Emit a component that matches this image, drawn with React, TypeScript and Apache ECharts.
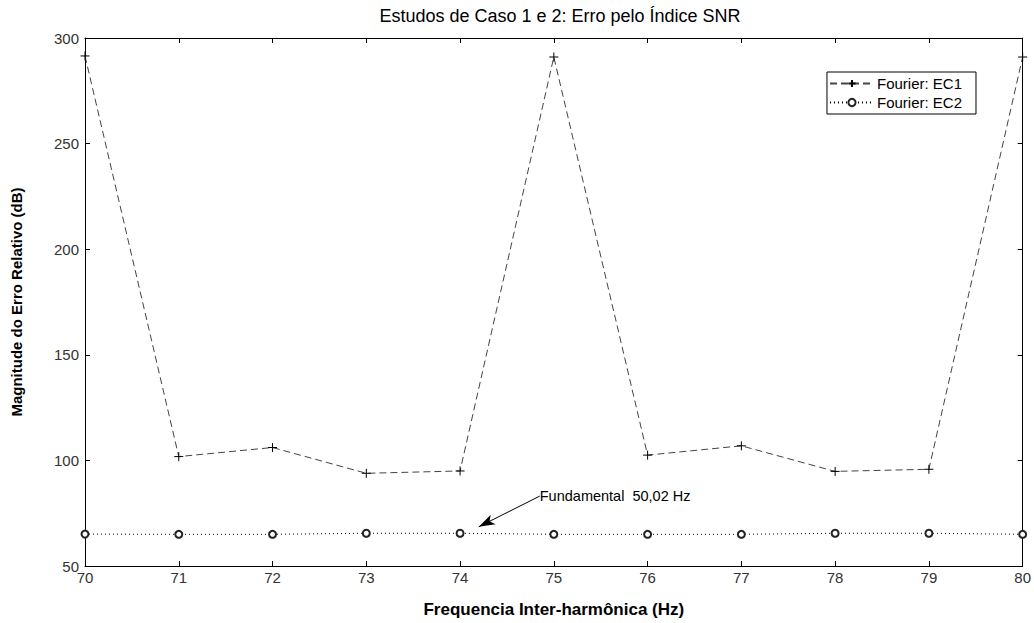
import React, { useEffect, useRef } from "react";
import * as echarts from "echarts";

const freqs = [70, 71, 72, 73, 74, 75, 76, 77, 78, 79, 80];
const ec1 = [291.5, 101.8, 106.1, 93.9, 95.0, 291.0, 102.5, 106.9, 94.8, 95.8, 291.0];
const ec2 = [65.1, 65.0, 65.0, 65.5, 65.5, 65.0, 65.0, 65.0, 65.5, 65.5, 65.0];
const seriesNames = ["Fourier: EC1", "Fourier: EC2"];
const annotationText = "Fundamental  50,02 Hz";
const arrowFrom = [74.85, 83.1];
const arrowTo = [74.2, 68.6];

const FONT = "Liberation Sans, Arial, sans-serif";

export default function App() {
  const ref = useRef<HTMLDivElement>(null);
  useEffect(() => {
    if (!ref.current) return;
    const chart = echarts.init(ref.current, null, { renderer: "svg" });
    const plus = "path://M0,5L10,5M5,0L5,10";
    chart.setOption({
      animation: false,
      backgroundColor: "#fff",
      textStyle: { fontFamily: FONT },
      title: {
        text: "Estudos de Caso 1 e 2: Erro pelo Índice SNR",
        left: 555,
        textAlign: "center",
        top: 2,
        textStyle: { fontFamily: FONT, fontSize: 18, fontWeight: "normal", color: "#000" },
      },
      legend: {
        orient: "vertical",
        right: 58,
        top: 72,
        borderColor: "#000",
        borderWidth: 1,
        padding: [4, 14, 4, 2],
        itemGap: 4,
        itemWidth: 44,
        itemHeight: 9,
        textStyle: { fontFamily: FONT, fontSize: 15, color: "#000", padding: [0, 0, 0, -2] },
        data: seriesNames,
      },
      grid: { left: 85, right: 10, top: 38, bottom: 56, containLabel: false },
      xAxis: [
        {
          type: "value",
          min: 70,
          max: 80,
          interval: 1,
          name: "Frequencia Inter-harmônica (Hz)",
          nameLocation: "middle",
          nameGap: 35,
          nameTextStyle: { fontFamily: FONT, fontSize: 17, fontWeight: "bold", color: "#000" },
          axisLine: { show: true, onZero: false, lineStyle: { color: "#000", width: 1 } },
          axisTick: { show: true, inside: true, length: 5, lineStyle: { color: "#000" } },
          axisLabel: { fontFamily: FONT, fontSize: 15, color: "#333", margin: 4 },
          splitLine: { show: false },
        },
        {
          type: "value",
          position: "top",
          min: 70,
          max: 80,
          interval: 1,
          axisLine: { show: true, onZero: false, lineStyle: { color: "#000", width: 1 } },
          axisTick: { show: true, inside: true, length: 5, lineStyle: { color: "#000" } },
          axisLabel: { show: false },
          splitLine: { show: false },
        },
      ],
      yAxis: [
        {
          type: "value",
          min: 50,
          max: 300,
          interval: 50,
          name: "Magnitude do Erro Relativo (dB)",
          nameLocation: "middle",
          nameGap: 61,
          nameTextStyle: { fontFamily: FONT, fontSize: 15, fontWeight: "bold", color: "#000" },
          axisLine: { show: true, onZero: false, lineStyle: { color: "#000", width: 1 } },
          axisTick: { show: true, inside: true, length: 5, lineStyle: { color: "#000" } },
          axisLabel: { fontFamily: FONT, fontSize: 15, color: "#333", margin: 6 },
          splitLine: { show: false },
        },
        {
          type: "value",
          position: "right",
          min: 50,
          max: 300,
          interval: 50,
          axisLine: { show: true, onZero: false, lineStyle: { color: "#000", width: 1 } },
          axisTick: { show: true, inside: true, length: 5, lineStyle: { color: "#000" } },
          axisLabel: { show: false },
          splitLine: { show: false },
        },
      ],
      series: [
        {
          name: seriesNames[0],
          type: "line",
          data: freqs.map((f, i) => [f, ec1[i]]),
          symbol: plus,
          symbolSize: 9,
          lineStyle: { color: "#444", width: 1, type: [7, 4] },
          itemStyle: { color: "#000", borderColor: "#000", borderWidth: 1 },
          emphasis: { disabled: true },
        },
        {
          name: seriesNames[1],
          type: "line",
          data: freqs.map((f, i) => [f, ec2[i]]),
          symbol: "emptyCircle",
          symbolSize: 7,
          lineStyle: { color: "#000", width: 1, type: [1, 3] },
          itemStyle: { color: "#222", borderColor: "#222", borderWidth: 0.8 },
          emphasis: { disabled: true },
          markLine: {
            silent: true,
            symbol: ["none", "arrow"],
            symbolSize: [8, 16],
            lineStyle: { color: "#000", width: 1, type: "solid" },
            label: { show: false },
            data: [[{ coord: arrowFrom }, { coord: arrowTo }]],
          },
          markPoint: {
            silent: true,
            symbol: "circle",
            symbolSize: 0,
            label: {
              show: true,
              position: "right",
              distance: 0,
              formatter: annotationText,
              fontFamily: FONT,
              fontSize: 14.5,
              color: "#000",
            },
            data: [{ coord: arrowFrom }],
          },
        },
      ],
    });
    return () => chart.dispose();
  }, []);
  return (
    <div
      ref={ref}
      style={{ position: "fixed", left: 0, top: 0, width: 1034, height: 623 }}
    />
  );
}
